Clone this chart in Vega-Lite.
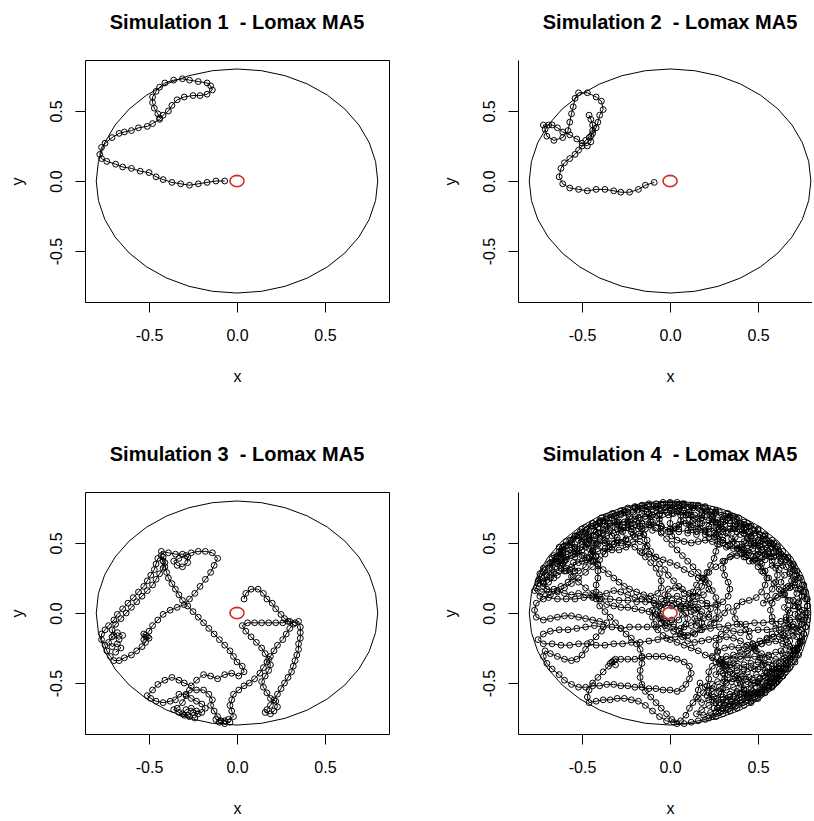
{
  "$schema": "https://vega.github.io/schema/vega-lite/v6.json",
  "background": "white",
  "padding": {"left": 8, "top": 12, "right": 0, "bottom": 0},
  "columns": 2,
  "spacing": {"row": 190, "column": 129},
  "bounds": "flush",
  "config": {
    "font": "Liberation Sans",
    "view": {"stroke": "black", "strokeWidth": 1},
    "axis": {
      "grid": false, "domain": false, "ticks": true, "tickColor": "black", "tickWidth": 1, "tickSize": 10,
      "labelFont": "Liberation Sans", "labelFontSize": 16, "labelColor": "black", "labelFlush": false, "labelOverlap": false,
      "titleFont": "Liberation Sans", "titleFontSize": 16, "titleFontWeight": "normal", "titleColor": "black"
    },
    "axisX": {"labelBaseline": "alphabetic", "labelPadding": 28, "titleY": 79, "titleBaseline": "alphabetic"},
    "axisY": {"labelAngle": -90, "labelAlign": "center", "labelBaseline": "alphabetic", "labelPadding": 14, "titleAngle": -90, "titleX": -63, "titleY": 121, "titleBaseline": "alphabetic", "titleAlign": "center"},
    "title": {"font": "Liberation Sans", "fontSize": 20, "fontWeight": "bold", "color": "black", "baseline": "alphabetic", "offset": 27, "frame": "group", "anchor": "middle"}
  },
  "datasets": {
    "ring": [{"x":0,"y":0.8},{"x":0.1389,"y":0.7878},{"x":0.2736,"y":0.7518},{"x":0.4,"y":0.6928},{"x":0.5142,"y":0.6128},{"x":0.6128,"y":0.5142},{"x":0.6928,"y":0.4},{"x":0.7518,"y":0.2736},{"x":0.7878,"y":0.1389},{"x":0.8,"y":0},{"x":0.7878,"y":-0.1389},{"x":0.7518,"y":-0.2736},{"x":0.6928,"y":-0.4},{"x":0.6128,"y":-0.5142},{"x":0.5142,"y":-0.6128},{"x":0.4,"y":-0.6928},{"x":0.2736,"y":-0.7518},{"x":0.1389,"y":-0.7878},{"x":0,"y":-0.8},{"x":-0.1389,"y":-0.7878},{"x":-0.2736,"y":-0.7518},{"x":-0.4,"y":-0.6928},{"x":-0.5142,"y":-0.6128},{"x":-0.6128,"y":-0.5142},{"x":-0.6928,"y":-0.4},{"x":-0.7518,"y":-0.2736},{"x":-0.7878,"y":-0.1389},{"x":-0.8,"y":0},{"x":-0.7878,"y":0.1389},{"x":-0.7518,"y":0.2736},{"x":-0.6928,"y":0.4},{"x":-0.6128,"y":0.5142},{"x":-0.5142,"y":0.6128},{"x":-0.4,"y":0.6928},{"x":-0.2736,"y":0.7518},{"x":-0.1389,"y":0.7878},{"x":0,"y":0.8}],
    "target": [{"x":0.04,"y":0},{"x":0.037,"y":0.0153},{"x":0.0283,"y":0.0283},{"x":0.0153,"y":0.037},{"x":0,"y":0.04},{"x":-0.0153,"y":0.037},{"x":-0.0283,"y":0.0283},{"x":-0.037,"y":0.0153},{"x":-0.04,"y":0},{"x":-0.037,"y":-0.0153},{"x":-0.0283,"y":-0.0283},{"x":-0.0153,"y":-0.037},{"x":0,"y":-0.04},{"x":0.0153,"y":-0.037},{"x":0.0283,"y":-0.0283},{"x":0.037,"y":-0.0153},{"x":0.04,"y":0}],
    "sim1": [{"x":-0.07,"y":0},{"x":-0.12,"y":0},{"x":-0.17,"y":-0.01},{"x":-0.22,"y":-0.02},{"x":-0.27,"y":-0.03},{"x":-0.32,"y":-0.02},{"x":-0.37,"y":-0.01},{"x":-0.42,"y":0.01},{"x":-0.46,"y":0.03},{"x":-0.5,"y":0.06},{"x":-0.55,"y":0.07},{"x":-0.6,"y":0.09},{"x":-0.65,"y":0.1},{"x":-0.69,"y":0.12},{"x":-0.74,"y":0.14},{"x":-0.77,"y":0.16},{"x":-0.78,"y":0.19},{"x":-0.77,"y":0.24},{"x":-0.75,"y":0.27},{"x":-0.71,"y":0.31},{"x":-0.67,"y":0.34},{"x":-0.64,"y":0.35},{"x":-0.6,"y":0.36},{"x":-0.56,"y":0.38},{"x":-0.51,"y":0.39},{"x":-0.48,"y":0.41},{"x":-0.44,"y":0.44},{"x":-0.42,"y":0.47},{"x":-0.39,"y":0.5},{"x":-0.37,"y":0.54},{"x":-0.34,"y":0.58},{"x":-0.3,"y":0.6},{"x":-0.25,"y":0.61},{"x":-0.21,"y":0.61},{"x":-0.17,"y":0.62},{"x":-0.14,"y":0.65},{"x":-0.15,"y":0.68},{"x":-0.17,"y":0.7},{"x":-0.22,"y":0.71},{"x":-0.27,"y":0.72},{"x":-0.31,"y":0.73},{"x":-0.36,"y":0.72},{"x":-0.41,"y":0.7},{"x":-0.44,"y":0.67},{"x":-0.46,"y":0.64},{"x":-0.48,"y":0.6},{"x":-0.48,"y":0.56},{"x":-0.47,"y":0.52},{"x":-0.45,"y":0.48},{"x":-0.44,"y":0.45}],
    "sim2": [{"x":-0.09,"y":-0.01},{"x":-0.14,"y":-0.03},{"x":-0.18,"y":-0.06},{"x":-0.23,"y":-0.08},{"x":-0.28,"y":-0.08},{"x":-0.32,"y":-0.07},{"x":-0.37,"y":-0.06},{"x":-0.42,"y":-0.06},{"x":-0.47,"y":-0.07},{"x":-0.52,"y":-0.06},{"x":-0.57,"y":-0.05},{"x":-0.61,"y":-0.02},{"x":-0.63,"y":0.03},{"x":-0.62,"y":0.09},{"x":-0.6,"y":0.13},{"x":-0.57,"y":0.16},{"x":-0.54,"y":0.19},{"x":-0.52,"y":0.22},{"x":-0.5,"y":0.25},{"x":-0.48,"y":0.29},{"x":-0.46,"y":0.31},{"x":-0.44,"y":0.34},{"x":-0.42,"y":0.38},{"x":-0.41,"y":0.42},{"x":-0.4,"y":0.47},{"x":-0.38,"y":0.51},{"x":-0.39,"y":0.57},{"x":-0.42,"y":0.6},{"x":-0.47,"y":0.63},{"x":-0.52,"y":0.63},{"x":-0.54,"y":0.59},{"x":-0.55,"y":0.53},{"x":-0.56,"y":0.48},{"x":-0.57,"y":0.42},{"x":-0.58,"y":0.36},{"x":-0.61,"y":0.31},{"x":-0.66,"y":0.29},{"x":-0.7,"y":0.32},{"x":-0.71,"y":0.37},{"x":-0.72,"y":0.4},{"x":-0.69,"y":0.4},{"x":-0.67,"y":0.4},{"x":-0.64,"y":0.38},{"x":-0.61,"y":0.35},{"x":-0.57,"y":0.33},{"x":-0.53,"y":0.3},{"x":-0.5,"y":0.27},{"x":-0.47,"y":0.25},{"x":-0.45,"y":0.28},{"x":-0.45,"y":0.32},{"x":-0.44,"y":0.36},{"x":-0.44,"y":0.4},{"x":-0.45,"y":0.44},{"x":-0.46,"y":0.47}],
    "sim3": [{"x":0.04,"y":0.1},{"x":0.05,"y":0.14},{"x":0.08,"y":0.17},{"x":0.12,"y":0.17},{"x":0.15,"y":0.14},{"x":0.17,"y":0.1},{"x":0.2,"y":0.07},{"x":0.22,"y":0.03},{"x":0.25,"y":-0.01},{"x":0.27,"y":-0.04},{"x":0.3,"y":-0.06},{"x":0.33,"y":-0.07},{"x":0.35,"y":-0.06},{"x":0.36,"y":-0.1},{"x":0.36,"y":-0.14},{"x":0.36,"y":-0.18},{"x":0.35,"y":-0.22},{"x":0.35,"y":-0.26},{"x":0.34,"y":-0.3},{"x":0.33,"y":-0.34},{"x":0.32,"y":-0.38},{"x":0.31,"y":-0.42},{"x":0.29,"y":-0.46},{"x":0.27,"y":-0.5},{"x":0.25,"y":-0.54},{"x":0.23,"y":-0.58},{"x":0.21,"y":-0.62},{"x":0.19,"y":-0.66},{"x":0.17,"y":-0.69},{"x":0.16,"y":-0.71},{"x":0.19,"y":-0.72},{"x":0.21,"y":-0.7},{"x":0.23,"y":-0.67},{"x":0.22,"y":-0.63},{"x":0.19,"y":-0.61},{"x":0.17,"y":-0.57},{"x":0.15,"y":-0.53},{"x":0.14,"y":-0.49},{"x":0.16,"y":-0.45},{"x":0.18,"y":-0.41},{"x":0.19,"y":-0.37},{"x":0.18,"y":-0.33},{"x":0.16,"y":-0.29},{"x":0.14,"y":-0.25},{"x":0.11,"y":-0.21},{"x":0.08,"y":-0.17},{"x":0.05,"y":-0.13},{"x":0.03,"y":-0.09},{"x":0.06,"y":-0.07},{"x":0.1,"y":-0.07},{"x":0.14,"y":-0.07},{"x":0.18,"y":-0.07},{"x":0.22,"y":-0.07},{"x":0.26,"y":-0.07},{"x":0.29,"y":-0.06},{"x":0.32,"y":-0.08},{"x":0.3,"y":-0.11},{"x":0.28,"y":-0.15},{"x":0.26,"y":-0.19},{"x":0.23,"y":-0.23},{"x":0.21,"y":-0.27},{"x":0.19,"y":-0.31},{"x":0.17,"y":-0.35},{"x":0.15,"y":-0.39},{"x":0.13,"y":-0.43},{"x":0.1,"y":-0.47},{"x":0.07,"y":-0.5},{"x":0.04,"y":-0.52},{"x":0.01,"y":-0.55},{"x":-0.02,"y":-0.58},{"x":-0.03,"y":-0.62},{"x":-0.04,"y":-0.66},{"x":-0.03,"y":-0.7},{"x":-0.02,"y":-0.74},{"x":-0.05,"y":-0.76},{"x":-0.09,"y":-0.77},{"x":-0.12,"y":-0.76},{"x":-0.1,"y":-0.78},{"x":-0.07,"y":-0.79},{"x":-0.04,"y":-0.78},{"x":-0.07,"y":-0.77},{"x":-0.11,"y":-0.74},{"x":-0.13,"y":-0.7},{"x":-0.15,"y":-0.66},{"x":-0.14,"y":-0.62},{"x":-0.16,"y":-0.58},{"x":-0.19,"y":-0.55},{"x":-0.23,"y":-0.55},{"x":-0.27,"y":-0.55},{"x":-0.29,"y":-0.59},{"x":-0.31,"y":-0.64},{"x":-0.34,"y":-0.68},{"x":-0.36,"y":-0.69},{"x":-0.33,"y":-0.71},{"x":-0.3,"y":-0.73},{"x":-0.27,"y":-0.74},{"x":-0.24,"y":-0.75},{"x":-0.22,"y":-0.72},{"x":-0.25,"y":-0.71},{"x":-0.28,"y":-0.73},{"x":-0.31,"y":-0.72},{"x":-0.29,"y":-0.69},{"x":-0.26,"y":-0.68},{"x":-0.23,"y":-0.7},{"x":-0.2,"y":-0.71},{"x":-0.18,"y":-0.68},{"x":-0.2,"y":-0.65},{"x":-0.23,"y":-0.63},{"x":-0.26,"y":-0.61},{"x":-0.29,"y":-0.58},{"x":-0.33,"y":-0.58},{"x":-0.35,"y":-0.62},{"x":-0.38,"y":-0.63},{"x":-0.42,"y":-0.64},{"x":-0.46,"y":-0.63},{"x":-0.49,"y":-0.61},{"x":-0.51,"y":-0.59},{"x":-0.48,"y":-0.55},{"x":-0.45,"y":-0.51},{"x":-0.41,"y":-0.48},{"x":-0.37,"y":-0.46},{"x":-0.33,"y":-0.48},{"x":-0.3,"y":-0.5},{"x":-0.26,"y":-0.52},{"x":-0.23,"y":-0.48},{"x":-0.19,"y":-0.44},{"x":-0.15,"y":-0.45},{"x":-0.11,"y":-0.47},{"x":-0.07,"y":-0.44},{"x":-0.03,"y":-0.43},{"x":0.01,"y":-0.45},{"x":0.04,"y":-0.42},{"x":0.03,"y":-0.38},{"x":0,"y":-0.35},{"x":-0.02,"y":-0.31},{"x":-0.04,"y":-0.27},{"x":-0.07,"y":-0.23},{"x":-0.1,"y":-0.19},{"x":-0.13,"y":-0.15},{"x":-0.16,"y":-0.11},{"x":-0.19,"y":-0.07},{"x":-0.22,"y":-0.03},{"x":-0.25,"y":0.01},{"x":-0.28,"y":0.05},{"x":-0.31,"y":0.09},{"x":-0.33,"y":0.13},{"x":-0.35,"y":0.17},{"x":-0.37,"y":0.21},{"x":-0.39,"y":0.25},{"x":-0.4,"y":0.29},{"x":-0.41,"y":0.33},{"x":-0.42,"y":0.37},{"x":-0.43,"y":0.41},{"x":-0.43,"y":0.44},{"x":-0.39,"y":0.43},{"x":-0.35,"y":0.42},{"x":-0.31,"y":0.42},{"x":-0.28,"y":0.4},{"x":-0.28,"y":0.36},{"x":-0.31,"y":0.33},{"x":-0.34,"y":0.34},{"x":-0.36,"y":0.37},{"x":-0.33,"y":0.39},{"x":-0.29,"y":0.41},{"x":-0.26,"y":0.43},{"x":-0.22,"y":0.44},{"x":-0.18,"y":0.44},{"x":-0.14,"y":0.43},{"x":-0.11,"y":0.39},{"x":-0.13,"y":0.34},{"x":-0.15,"y":0.29},{"x":-0.18,"y":0.24},{"x":-0.21,"y":0.19},{"x":-0.24,"y":0.14},{"x":-0.27,"y":0.1},{"x":-0.3,"y":0.06},{"x":-0.34,"y":0.04},{"x":-0.38,"y":0.02},{"x":-0.42,"y":-0.01},{"x":-0.45,"y":-0.05},{"x":-0.48,"y":-0.09},{"x":-0.5,"y":-0.13},{"x":-0.52,"y":-0.16},{"x":-0.5,"y":-0.18},{"x":-0.53,"y":-0.19},{"x":-0.53,"y":-0.15},{"x":-0.51,"y":-0.17},{"x":-0.52,"y":-0.21},{"x":-0.54,"y":-0.24},{"x":-0.57,"y":-0.27},{"x":-0.6,"y":-0.3},{"x":-0.64,"y":-0.32},{"x":-0.67,"y":-0.34},{"x":-0.7,"y":-0.34},{"x":-0.72,"y":-0.31},{"x":-0.74,"y":-0.27},{"x":-0.75,"y":-0.23},{"x":-0.77,"y":-0.19},{"x":-0.77,"y":-0.15},{"x":-0.75,"y":-0.12},{"x":-0.73,"y":-0.09},{"x":-0.7,"y":-0.05},{"x":-0.68,"y":-0.01},{"x":-0.65,"y":0.03},{"x":-0.62,"y":0.07},{"x":-0.59,"y":0.11},{"x":-0.56,"y":0.15},{"x":-0.53,"y":0.19},{"x":-0.51,"y":0.23},{"x":-0.49,"y":0.27},{"x":-0.47,"y":0.31},{"x":-0.46,"y":0.35},{"x":-0.45,"y":0.39},{"x":-0.42,"y":0.4},{"x":-0.41,"y":0.36},{"x":-0.42,"y":0.32},{"x":-0.44,"y":0.28},{"x":-0.46,"y":0.24},{"x":-0.48,"y":0.2},{"x":-0.51,"y":0.16},{"x":-0.54,"y":0.12},{"x":-0.57,"y":0.08},{"x":-0.6,"y":0.04},{"x":-0.63,"y":0},{"x":-0.66,"y":-0.04},{"x":-0.69,"y":-0.08},{"x":-0.71,"y":-0.12},{"x":-0.7,"y":-0.16},{"x":-0.67,"y":-0.19},{"x":-0.65,"y":-0.16},{"x":-0.68,"y":-0.14},{"x":-0.71,"y":-0.17},{"x":-0.73,"y":-0.21},{"x":-0.71,"y":-0.24},{"x":-0.68,"y":-0.22},{"x":-0.66,"y":-0.25},{"x":-0.69,"y":-0.28}],
    "sim4": [{"x":0.02,"y":-0.08},{"x":-0.03,"y":-0.09},{"x":-0.08,"y":-0.1},{"x":-0.13,"y":-0.1},{"x":-0.18,"y":-0.1},{"x":-0.23,"y":-0.1},{"x":-0.28,"y":-0.11},{"x":-0.33,"y":-0.1},{"x":-0.38,"y":-0.1},{"x":-0.43,"y":-0.09},{"x":-0.48,"y":-0.1},{"x":-0.53,"y":-0.11},{"x":-0.58,"y":-0.12},{"x":-0.63,"y":-0.12},{"x":-0.68,"y":-0.13},{"x":-0.72,"y":-0.15},{"x":-0.75,"y":-0.19},
      {"x":-0.72,"y":-0.22},{"x":-0.67,"y":-0.22},{"x":-0.62,"y":-0.23},{"x":-0.57,"y":-0.23},{"x":-0.52,"y":-0.22},{"x":-0.47,"y":-0.22},{"x":-0.42,"y":-0.23},{"x":-0.37,"y":-0.23},{"x":-0.32,"y":-0.22},{"x":-0.27,"y":-0.22},{"x":-0.22,"y":-0.21},{"x":-0.17,"y":-0.21},{"x":-0.12,"y":-0.2},{"x":-0.07,"y":-0.19},{"x":-0.02,"y":-0.18},{"x":0.03,"y":-0.17},{"x":0.08,"y":-0.16},{"x":0.13,"y":-0.14},{"x":0.18,"y":-0.12},{"x":0.23,"y":-0.11},{"x":0.28,"y":-0.1},{"x":0.33,"y":-0.09},{"x":0.38,"y":-0.08},{"x":0.43,"y":-0.08},{"x":0.48,"y":-0.07},{"x":0.53,"y":-0.07},{"x":0.58,"y":-0.06},{"x":0.63,"y":-0.06},{"x":0.68,"y":-0.05},{"x":0.73,"y":-0.04},{"x":0.77,"y":-0.03},
      {"x":0.74,"y":0.01},{"x":0.71,"y":0.05},{"x":0.68,"y":0.09},{"x":0.65,"y":0.13},{"x":0.62,"y":0.17},{"x":0.59,"y":0.21},{"x":0.56,"y":0.25},{"x":0.53,"y":0.29},{"x":0.5,"y":0.33},{"x":0.47,"y":0.37},{"x":0.44,"y":0.41},{"x":0.41,"y":0.45},{"x":0.38,"y":0.49},{"x":0.35,"y":0.53},{"x":0.32,"y":0.57},{"x":0.29,"y":0.61},{"x":0.26,"y":0.65},{"x":0.23,"y":0.69},{"x":0.2,"y":0.73},{"x":0.16,"y":0.76},
      {"x":0.12,"y":0.77},{"x":0.08,"y":0.78},{"x":0.04,"y":0.76},{"x":0,"y":0.78},{"x":-0.04,"y":0.77},{"x":-0.08,"y":0.75},{"x":-0.12,"y":0.76},{"x":-0.16,"y":0.74},{"x":-0.2,"y":0.75},{"x":-0.24,"y":0.72},{"x":-0.28,"y":0.71},{"x":-0.32,"y":0.69},{"x":-0.36,"y":0.67},{"x":-0.4,"y":0.65},{"x":-0.44,"y":0.62},{"x":-0.48,"y":0.59},{"x":-0.52,"y":0.56},{"x":-0.56,"y":0.52},{"x":-0.59,"y":0.48},{"x":-0.62,"y":0.44},{"x":-0.65,"y":0.4},{"x":-0.68,"y":0.36},{"x":-0.71,"y":0.31},{"x":-0.73,"y":0.26},{"x":-0.75,"y":0.21},{"x":-0.77,"y":0.16},
      {"x":-0.74,"y":0.12},{"x":-0.69,"y":0.11},{"x":-0.64,"y":0.1},{"x":-0.59,"y":0.1},{"x":-0.54,"y":0.1},{"x":-0.49,"y":0.11},{"x":-0.44,"y":0.11},{"x":-0.39,"y":0.1},{"x":-0.34,"y":0.1},{"x":-0.29,"y":0.09},{"x":-0.24,"y":0.09},{"x":-0.19,"y":0.08},{"x":-0.14,"y":0.08},{"x":-0.09,"y":0.07},{"x":-0.04,"y":0.06},{"x":0.01,"y":0.05},{"x":0.06,"y":0.05},{"x":0.11,"y":0.04},{"x":0.16,"y":0.04},{"x":0.21,"y":0.05},{"x":0.26,"y":0.06},{"x":0.3,"y":0.08},{"x":0.33,"y":0.12},{"x":0.34,"y":0.17},{"x":0.33,"y":0.22},{"x":0.31,"y":0.27},{"x":0.3,"y":0.32},{"x":0.31,"y":0.37},{"x":0.34,"y":0.4},{"x":0.38,"y":0.41},{"x":0.43,"y":0.4},{"x":0.48,"y":0.38},{"x":0.52,"y":0.35},{"x":0.54,"y":0.3},{"x":0.55,"y":0.25},{"x":0.54,"y":0.2},{"x":0.52,"y":0.15},{"x":0.49,"y":0.11},{"x":0.45,"y":0.09},{"x":0.41,"y":0.08},
      {"x":0.38,"y":0.05},{"x":0.36,"y":0.01},{"x":0.37,"y":-0.04},{"x":0.4,"y":-0.08},{"x":0.43,"y":-0.12},{"x":0.45,"y":-0.17},{"x":0.47,"y":-0.22},{"x":0.49,"y":-0.27},{"x":0.51,"y":-0.32},{"x":0.53,"y":-0.37},{"x":0.55,"y":-0.42},{"x":0.56,"y":-0.47},{"x":0.55,"y":-0.52},{"x":0.52,"y":-0.56},{"x":0.48,"y":-0.58},{"x":0.44,"y":-0.6},{"x":0.4,"y":-0.62},{"x":0.36,"y":-0.65},{"x":0.32,"y":-0.68},{"x":0.28,"y":-0.71},{"x":0.24,"y":-0.74},{"x":0.2,"y":-0.76},{"x":0.16,"y":-0.77},{"x":0.12,"y":-0.78},{"x":0.08,"y":-0.79},{"x":0.04,"y":-0.79},
      {"x":0.01,"y":-0.76},{"x":-0.02,"y":-0.72},{"x":-0.05,"y":-0.68},{"x":-0.08,"y":-0.64},{"x":-0.11,"y":-0.6},{"x":-0.14,"y":-0.56},{"x":-0.16,"y":-0.51},{"x":-0.17,"y":-0.46},{"x":-0.17,"y":-0.41},{"x":-0.16,"y":-0.36},{"x":-0.16,"y":-0.31},{"x":-0.17,"y":-0.26},{"x":-0.19,"y":-0.22},{"x":-0.22,"y":-0.18},{"x":-0.25,"y":-0.15},{"x":-0.28,"y":-0.11},{"x":-0.31,"y":-0.07},{"x":-0.34,"y":-0.03},{"x":-0.37,"y":0.01},{"x":-0.4,"y":0.05},{"x":-0.42,"y":0.1},{"x":-0.42,"y":0.15},{"x":-0.42,"y":0.2},{"x":-0.41,"y":0.25},{"x":-0.41,"y":0.3},{"x":-0.41,"y":0.35},{"x":-0.42,"y":0.4},{"x":-0.44,"y":0.45},{"x":-0.47,"y":0.49},{"x":-0.5,"y":0.53},
      {"x":-0.46,"y":0.56},{"x":-0.42,"y":0.58},{"x":-0.38,"y":0.6},{"x":-0.34,"y":0.62},{"x":-0.3,"y":0.64},{"x":-0.26,"y":0.65},{"x":-0.22,"y":0.67},{"x":-0.18,"y":0.68},{"x":-0.14,"y":0.69},{"x":-0.1,"y":0.7},{"x":-0.06,"y":0.71},{"x":-0.02,"y":0.72},{"x":0.02,"y":0.71},{"x":0.06,"y":0.7},{"x":0.1,"y":0.71},{"x":0.14,"y":0.7},{"x":0.18,"y":0.68},{"x":0.22,"y":0.66},{"x":0.26,"y":0.64},{"x":0.3,"y":0.67},{"x":0.34,"y":0.69},{"x":0.38,"y":0.67},{"x":0.42,"y":0.65},{"x":0.46,"y":0.62},{"x":0.5,"y":0.59},{"x":0.54,"y":0.56},{"x":0.58,"y":0.52},{"x":0.61,"y":0.48},{"x":0.64,"y":0.44},{"x":0.67,"y":0.4},{"x":0.7,"y":0.35},{"x":0.72,"y":0.3},{"x":0.74,"y":0.25},{"x":0.76,"y":0.2},
      {"x":0.77,"y":0.15},{"x":0.78,"y":0.1},{"x":0.78,"y":0.05},{"x":0.77,"y":0},{"x":0.76,"y":-0.05},{"x":0.77,"y":-0.1},{"x":0.76,"y":-0.15},{"x":0.74,"y":-0.2},{"x":0.73,"y":-0.25},{"x":0.71,"y":-0.3},{"x":0.69,"y":-0.35},{"x":0.67,"y":-0.4},{"x":0.64,"y":-0.45},{"x":0.61,"y":-0.49},{"x":0.58,"y":-0.53},{"x":0.54,"y":-0.57},{"x":0.5,"y":-0.61},{"x":0.46,"y":-0.64},
      {"x":0.44,"y":-0.6},{"x":0.42,"y":-0.55},{"x":0.4,"y":-0.5},{"x":0.38,"y":-0.45},{"x":0.35,"y":-0.41},{"x":0.32,"y":-0.37},{"x":0.29,"y":-0.33},{"x":0.27,"y":-0.28},{"x":0.26,"y":-0.23},{"x":0.28,"y":-0.19},{"x":0.32,"y":-0.17},{"x":0.36,"y":-0.18},{"x":0.4,"y":-0.2},{"x":0.44,"y":-0.23},{"x":0.48,"y":-0.26},{"x":0.52,"y":-0.29},{"x":0.56,"y":-0.31},{"x":0.6,"y":-0.33},{"x":0.64,"y":-0.33},{"x":0.68,"y":-0.3},{"x":0.7,"y":-0.25},{"x":0.68,"y":-0.2},{"x":0.65,"y":-0.16},{"x":0.62,"y":-0.12},{"x":0.6,"y":-0.08},{"x":0.58,"y":-0.03},{"x":0.57,"y":0.02},{"x":0.58,"y":0.07},{"x":0.6,"y":0.12},{"x":0.63,"y":0.16},{"x":0.67,"y":0.19},{"x":0.71,"y":0.2},{"x":0.74,"y":0.17},{"x":0.75,"y":0.12},{"x":0.73,"y":0.08},{"x":0.7,"y":0.05},{"x":0.67,"y":0.02},{"x":0.66,"y":-0.03},{"x":0.67,"y":-0.08},{"x":0.69,"y":-0.13},{"x":0.72,"y":-0.17},{"x":0.74,"y":-0.22},
      {"x":0.72,"y":-0.27},{"x":0.69,"y":-0.31},{"x":0.66,"y":-0.36},{"x":0.62,"y":-0.4},{"x":0.58,"y":-0.43},{"x":0.54,"y":-0.46},{"x":0.5,"y":-0.49},{"x":0.46,"y":-0.51},{"x":0.42,"y":-0.54},{"x":0.38,"y":-0.57},{"x":0.34,"y":-0.6},{"x":0.3,"y":-0.62},{"x":0.26,"y":-0.64},{"x":0.22,"y":-0.66},{"x":0.18,"y":-0.69},{"x":0.15,"y":-0.72},{"x":0.19,"y":-0.73},{"x":0.23,"y":-0.71},{"x":0.27,"y":-0.68},{"x":0.31,"y":-0.66},{"x":0.35,"y":-0.63},{"x":0.39,"y":-0.61},{"x":0.43,"y":-0.58},{"x":0.47,"y":-0.56},{"x":0.51,"y":-0.53},{"x":0.55,"y":-0.5},{"x":0.58,"y":-0.47},{"x":0.61,"y":-0.43},{"x":0.63,"y":-0.39},{"x":0.6,"y":-0.36},{"x":0.56,"y":-0.35},{"x":0.52,"y":-0.37},{"x":0.48,"y":-0.4},{"x":0.44,"y":-0.42},{"x":0.4,"y":-0.44},{"x":0.36,"y":-0.47},{"x":0.32,"y":-0.5},{"x":0.28,"y":-0.53},{"x":0.24,"y":-0.56},{"x":0.21,"y":-0.59},{"x":0.25,"y":-0.6},{"x":0.29,"y":-0.58},
      {"x":0.3,"y":-0.54},{"x":0.31,"y":-0.49},{"x":0.31,"y":-0.44},{"x":0.3,"y":-0.39},{"x":0.28,"y":-0.35},{"x":0.24,"y":-0.32},{"x":0.2,"y":-0.3},{"x":0.16,"y":-0.27},{"x":0.12,"y":-0.25},{"x":0.08,"y":-0.23},{"x":0.04,"y":-0.21},{"x":0,"y":-0.19},{"x":-0.04,"y":-0.16},{"x":-0.07,"y":-0.12},{"x":-0.09,"y":-0.08},{"x":-0.1,"y":-0.03},{"x":-0.1,"y":0.02},{"x":-0.08,"y":0.06},{"x":-0.05,"y":0.1},{"x":-0.01,"y":0.12},{"x":0.04,"y":0.12},{"x":0.08,"y":0.1},{"x":0.12,"y":0.07},{"x":0.15,"y":0.03},{"x":0.17,"y":-0.02},{"x":0.18,"y":-0.07},{"x":0.17,"y":-0.12},{"x":0.14,"y":-0.15},{"x":0.1,"y":-0.16},{"x":0.06,"y":-0.15},{"x":0.02,"y":-0.13},{"x":-0.02,"y":-0.11},{"x":-0.05,"y":-0.07},{"x":-0.06,"y":-0.02},{"x":-0.05,"y":0.03},{"x":-0.03,"y":0.07},{"x":0.01,"y":0.09},{"x":0.05,"y":0.08},{"x":0.09,"y":0.05},{"x":0.12,"y":0.01},{"x":0.14,"y":-0.04},{"x":0.15,"y":-0.09},{"x":0.19,"y":-0.1},{"x":0.23,"y":-0.08},{"x":0.26,"y":-0.04},{"x":0.27,"y":0.01},{"x":0.27,"y":0.06},{"x":0.26,"y":0.11},{"x":0.24,"y":0.16},{"x":0.22,"y":0.21},{"x":0.19,"y":0.25},{"x":0.16,"y":0.29},{"x":0.13,"y":0.33},{"x":0.1,"y":0.37},{"x":0.07,"y":0.41},{"x":0.04,"y":0.45},{"x":0.01,"y":0.49},
      {"x":-0.02,"y":0.53},{"x":-0.05,"y":0.57},{"x":-0.08,"y":0.61},{"x":-0.12,"y":0.63},{"x":-0.16,"y":0.64},{"x":-0.2,"y":0.63},{"x":-0.24,"y":0.61},{"x":-0.28,"y":0.59},{"x":-0.32,"y":0.57},{"x":-0.36,"y":0.55},{"x":-0.4,"y":0.53},{"x":-0.44,"y":0.5},{"x":-0.48,"y":0.47},{"x":-0.52,"y":0.44},{"x":-0.56,"y":0.41},{"x":-0.6,"y":0.38},{"x":-0.64,"y":0.35},{"x":-0.67,"y":0.31},{"x":-0.7,"y":0.27},{"x":-0.72,"y":0.22},
      {"x":-0.68,"y":0.25},{"x":-0.64,"y":0.27},{"x":-0.6,"y":0.3},{"x":-0.56,"y":0.33},{"x":-0.52,"y":0.36},{"x":-0.48,"y":0.38},{"x":-0.44,"y":0.37},{"x":-0.41,"y":0.34},{"x":-0.38,"y":0.31},{"x":-0.35,"y":0.28},{"x":-0.32,"y":0.25},{"x":-0.29,"y":0.22},{"x":-0.26,"y":0.19},{"x":-0.23,"y":0.17},{"x":-0.19,"y":0.15},{"x":-0.15,"y":0.13},{"x":-0.11,"y":0.12},{"x":-0.07,"y":0.14},{"x":-0.05,"y":0.18},{"x":-0.05,"y":0.23},{"x":-0.06,"y":0.28},{"x":-0.08,"y":0.32},{"x":-0.11,"y":0.36},{"x":-0.14,"y":0.4},{"x":-0.17,"y":0.44},{"x":-0.2,"y":0.47},{"x":-0.24,"y":0.49},{"x":-0.28,"y":0.5},{"x":-0.32,"y":0.49},{"x":-0.35,"y":0.46},{"x":-0.37,"y":0.42},
      {"x":-0.4,"y":0.38},{"x":-0.44,"y":0.33},{"x":-0.48,"y":0.29},{"x":-0.52,"y":0.25},{"x":-0.56,"y":0.21},{"x":-0.6,"y":0.18},{"x":-0.64,"y":0.15},{"x":-0.68,"y":0.13},{"x":-0.72,"y":0.1},{"x":-0.76,"y":0.07},{"x":-0.77,"y":0.02},{"x":-0.76,"y":-0.03},{"x":-0.72,"y":-0.05},{"x":-0.68,"y":-0.04},{"x":-0.64,"y":-0.03},{"x":-0.6,"y":-0.02},{"x":-0.56,"y":-0.02},{"x":-0.52,"y":-0.03},{"x":-0.48,"y":-0.04},{"x":-0.44,"y":-0.05},{"x":-0.4,"y":-0.06},{"x":-0.36,"y":-0.07},
      {"x":-0.39,"y":-0.13},{"x":-0.42,"y":-0.17},{"x":-0.45,"y":-0.21},{"x":-0.48,"y":-0.26},{"x":-0.5,"y":-0.3},{"x":-0.53,"y":-0.33},{"x":-0.56,"y":-0.34},{"x":-0.6,"y":-0.33},{"x":-0.64,"y":-0.31},{"x":-0.68,"y":-0.29},{"x":-0.71,"y":-0.27},{"x":-0.72,"y":-0.31},{"x":-0.7,"y":-0.36},{"x":-0.67,"y":-0.4},{"x":-0.63,"y":-0.44},{"x":-0.6,"y":-0.48},{"x":-0.56,"y":-0.51},{"x":-0.52,"y":-0.53},{"x":-0.48,"y":-0.53},{"x":-0.44,"y":-0.52},{"x":-0.4,"y":-0.52},{"x":-0.36,"y":-0.51},{"x":-0.32,"y":-0.51},{"x":-0.28,"y":-0.52},{"x":-0.24,"y":-0.52},{"x":-0.2,"y":-0.53},{"x":-0.16,"y":-0.53},{"x":-0.12,"y":-0.54},{"x":-0.08,"y":-0.54},{"x":-0.04,"y":-0.55},{"x":0,"y":-0.55},{"x":0.04,"y":-0.56},{"x":0.07,"y":-0.54},{"x":0.09,"y":-0.51},{"x":0.11,"y":-0.47},{"x":0.12,"y":-0.43},{"x":0.11,"y":-0.38},{"x":0.08,"y":-0.35},{"x":0.04,"y":-0.33},{"x":0,"y":-0.32},{"x":-0.04,"y":-0.31},{"x":-0.08,"y":-0.31},{"x":-0.12,"y":-0.31},{"x":-0.16,"y":-0.32},{"x":-0.2,"y":-0.33},{"x":-0.24,"y":-0.33},{"x":-0.28,"y":-0.33},{"x":-0.31,"y":-0.33},{"x":-0.33,"y":-0.35},{"x":-0.31,"y":-0.37},{"x":-0.34,"y":-0.36},{"x":-0.32,"y":-0.34},
      {"x":-0.35,"y":-0.38},{"x":-0.38,"y":-0.42},{"x":-0.41,"y":-0.46},{"x":-0.44,"y":-0.5},{"x":-0.46,"y":-0.55},{"x":-0.47,"y":-0.6},{"x":-0.46,"y":-0.64},{"x":-0.42,"y":-0.63},{"x":-0.38,"y":-0.62},{"x":-0.34,"y":-0.62},{"x":-0.3,"y":-0.61},{"x":-0.26,"y":-0.61},{"x":-0.22,"y":-0.62},{"x":-0.18,"y":-0.63},{"x":-0.14,"y":-0.66},{"x":-0.1,"y":-0.7},{"x":-0.06,"y":-0.74},{"x":-0.02,"y":-0.77},{"x":0.02,"y":-0.78},{"x":0.06,"y":-0.77},{"x":0.09,"y":-0.73},{"x":0.11,"y":-0.68},{"x":0.13,"y":-0.64},{"x":0.16,"y":-0.61},{"x":0.19,"y":-0.57},{"x":0.21,"y":-0.52},{"x":0.22,"y":-0.47},{"x":0.22,"y":-0.42},{"x":0.24,"y":-0.38},{"x":0.28,"y":-0.36},{"x":0.32,"y":-0.33},{"x":0.36,"y":-0.3},{"x":0.4,"y":-0.28},{"x":0.44,"y":-0.27},
      {"x":0.48,"y":-0.24},{"x":0.52,"y":-0.22},{"x":0.56,"y":-0.21},{"x":0.6,"y":-0.2},{"x":0.64,"y":-0.22},{"x":0.68,"y":-0.24},{"x":0.72,"y":-0.26},{"x":0.73,"y":-0.3},{"x":0.71,"y":-0.35},{"x":0.68,"y":-0.39},{"x":0.65,"y":-0.43},{"x":0.62,"y":-0.47},{"x":0.59,"y":-0.51},{"x":0.56,"y":-0.54},{"x":0.52,"y":-0.58},{"x":0.49,"y":-0.61},{"x":0.46,"y":-0.63},{"x":0.42,"y":-0.66},{"x":0.38,"y":-0.68},{"x":0.34,"y":-0.7},{"x":0.3,"y":-0.72},{"x":0.26,"y":-0.74},{"x":0.22,"y":-0.75},
      {"x":0.26,"y":-0.71},{"x":0.3,"y":-0.68},{"x":0.34,"y":-0.65},{"x":0.38,"y":-0.62},{"x":0.42,"y":-0.58},{"x":0.46,"y":-0.54},{"x":0.5,"y":-0.5},{"x":0.54,"y":-0.46},{"x":0.58,"y":-0.42},{"x":0.62,"y":-0.38},{"x":0.66,"y":-0.34},{"x":0.7,"y":-0.3},{"x":0.73,"y":-0.25},{"x":0.75,"y":-0.2},{"x":0.76,"y":-0.15},{"x":0.77,"y":-0.1},{"x":0.78,"y":-0.05},{"x":0.78,"y":0},{"x":0.78,"y":0.05},{"x":0.77,"y":0.1},{"x":0.76,"y":0.15},{"x":0.75,"y":0.2},{"x":0.73,"y":0.25},{"x":0.71,"y":0.3},{"x":0.69,"y":0.34},{"x":0.66,"y":0.38},{"x":0.63,"y":0.42},{"x":0.6,"y":0.46},{"x":0.57,"y":0.5},{"x":0.54,"y":0.53},{"x":0.51,"y":0.56},{"x":0.47,"y":0.59},{"x":0.43,"y":0.61},{"x":0.4,"y":0.63},
      {"x":0.37,"y":0.6},{"x":0.4,"y":0.56},{"x":0.44,"y":0.53},{"x":0.48,"y":0.5},{"x":0.52,"y":0.47},{"x":0.56,"y":0.44},{"x":0.6,"y":0.41},{"x":0.63,"y":0.37},{"x":0.66,"y":0.33},{"x":0.68,"y":0.28},{"x":0.69,"y":0.23},{"x":0.68,"y":0.18},{"x":0.65,"y":0.14},{"x":0.61,"y":0.11},{"x":0.57,"y":0.09},{"x":0.53,"y":0.07},{"x":0.55,"y":0.12},{"x":0.58,"y":0.17},{"x":0.6,"y":0.22},{"x":0.61,"y":0.27},{"x":0.6,"y":0.32},{"x":0.58,"y":0.37},{"x":0.55,"y":0.41},{"x":0.52,"y":0.45},{"x":0.48,"y":0.48},{"x":0.44,"y":0.48},{"x":0.4,"y":0.47},{"x":0.36,"y":0.46},{"x":0.32,"y":0.47},{"x":0.28,"y":0.49},{"x":0.24,"y":0.51},{"x":0.2,"y":0.52},{"x":0.16,"y":0.51},{"x":0.12,"y":0.5},{"x":0.08,"y":0.51},{"x":0.04,"y":0.52},{"x":0.01,"y":0.55},{"x":0.02,"y":0.6},{"x":0.05,"y":0.63},{"x":0.09,"y":0.64},{"x":0.13,"y":0.63},{"x":0.17,"y":0.61},{"x":0.2,"y":0.58},{"x":0.22,"y":0.54},{"x":0.25,"y":0.57},{"x":0.28,"y":0.6},{"x":0.31,"y":0.63},{"x":0.34,"y":0.66},{"x":0.36,"y":0.69},{"x":0.32,"y":0.71},{"x":0.28,"y":0.72},{"x":0.24,"y":0.74},{"x":0.2,"y":0.76},
      {"x":0.16,"y":0.77},{"x":0.12,"y":0.76},{"x":0.08,"y":0.77},{"x":0.04,"y":0.79},{"x":0,"y":0.79},{"x":-0.04,"y":0.79},{"x":-0.08,"y":0.78},{"x":-0.12,"y":0.78},{"x":-0.16,"y":0.77},{"x":-0.2,"y":0.76},{"x":-0.24,"y":0.75},{"x":-0.28,"y":0.73},{"x":-0.32,"y":0.71},{"x":-0.36,"y":0.69},{"x":-0.4,"y":0.66},{"x":-0.44,"y":0.64},{"x":-0.48,"y":0.61},{"x":-0.51,"y":0.58},{"x":-0.54,"y":0.55},{"x":-0.57,"y":0.52},{"x":-0.6,"y":0.48},{"x":-0.63,"y":0.44},{"x":-0.66,"y":0.41},{"x":-0.62,"y":0.4},{"x":-0.58,"y":0.42},{"x":-0.54,"y":0.46},{"x":-0.5,"y":0.49},{"x":-0.46,"y":0.52},{"x":-0.42,"y":0.55},{"x":-0.38,"y":0.57},{"x":-0.34,"y":0.59},{"x":-0.3,"y":0.6},{"x":-0.26,"y":0.61},{"x":-0.22,"y":0.62},{"x":-0.18,"y":0.6},{"x":-0.15,"y":0.56},{"x":-0.13,"y":0.52},{"x":-0.14,"y":0.47},{"x":-0.16,"y":0.43},
      {"x":-0.12,"y":0.42},{"x":-0.08,"y":0.4},{"x":-0.04,"y":0.38},{"x":0,"y":0.36},{"x":0.04,"y":0.34},{"x":0.08,"y":0.31},{"x":0.12,"y":0.28},{"x":0.16,"y":0.25},{"x":0.2,"y":0.22},
      {"x":0.22,"y":0.17},{"x":0.19,"y":0.13},{"x":0.15,"y":0.12},{"x":0.11,"y":0.14},{"x":0.07,"y":0.17},{"x":0.03,"y":0.18},{"x":-0.01,"y":0.17},{"x":-0.03,"y":0.13},{"x":-0.02,"y":0.09},{"x":0.02,"y":0.06},{"x":0.06,"y":0.03},{"x":0.09,"y":0},{"x":0.1,"y":-0.04},{"x":0.09,"y":-0.08},{"x":0.06,"y":-0.11},{"x":0.02,"y":-0.1},{"x":-0.02,"y":-0.07},{"x":-0.05,"y":-0.04},{"x":-0.08,"y":-0.01},{"x":-0.12,"y":0.01},{"x":-0.16,"y":0.02},{"x":-0.2,"y":0.03},{"x":-0.24,"y":0.04},{"x":-0.28,"y":0.04},{"x":-0.32,"y":0.05},{"x":-0.36,"y":0.06},
      {"x":-0.4,"y":0.1},{"x":-0.44,"y":0.14},{"x":-0.48,"y":0.18},{"x":-0.52,"y":0.22},{"x":-0.56,"y":0.26},{"x":-0.59,"y":0.3},{"x":-0.62,"y":0.34},
      {"x":-0.63,"y":0.37},{"x":-0.59,"y":0.4},{"x":-0.54,"y":0.42},{"x":-0.5,"y":0.45},{"x":-0.48,"y":0.5},{"x":-0.46,"y":0.54},{"x":-0.43,"y":0.59},{"x":-0.4,"y":0.64},{"x":-0.34,"y":0.64},{"x":-0.29,"y":0.65},{"x":-0.24,"y":0.65},{"x":-0.18,"y":0.64},{"x":-0.14,"y":0.67},{"x":-0.1,"y":0.7},{"x":-0.05,"y":0.73},{"x":0,"y":0.75},{"x":0.05,"y":0.73},{"x":0.1,"y":0.7},{"x":0.14,"y":0.67},{"x":0.18,"y":0.64},{"x":0.24,"y":0.65},{"x":0.29,"y":0.65},{"x":0.34,"y":0.64},{"x":0.4,"y":0.64},{"x":0.43,"y":0.59},{"x":0.46,"y":0.54},{"x":0.48,"y":0.5},{"x":0.5,"y":0.45},{"x":0.54,"y":0.42},{"x":0.59,"y":0.4},{"x":0.63,"y":0.37},
      {"x":0.52,"y":0.3},{"x":0.51,"y":0.36},{"x":0.49,"y":0.41},{"x":0.44,"y":0.44},{"x":0.39,"y":0.46},{"x":0.33,"y":0.48},{"x":0.3,"y":0.52},{"x":0.26,"y":0.56},{"x":0.22,"y":0.6},{"x":0.16,"y":0.6},{"x":0.1,"y":0.59},{"x":0.05,"y":0.58},{"x":0,"y":0.6},{"x":-0.05,"y":0.62},{"x":-0.11,"y":0.63},{"x":-0.16,"y":0.6},{"x":-0.21,"y":0.56},{"x":-0.25,"y":0.53},{"x":-0.3,"y":0.52},{"x":-0.36,"y":0.51},{"x":-0.41,"y":0.49},{"x":-0.44,"y":0.44},{"x":-0.46,"y":0.39},{"x":-0.48,"y":0.33},{"x":-0.52,"y":0.3},
      {"x":-0.67,"y":0.39},{"x":-0.62,"y":0.42},{"x":-0.61,"y":0.47},{"x":-0.56,"y":0.5},{"x":-0.53,"y":0.55},{"x":-0.48,"y":0.57},{"x":-0.45,"y":0.62},{"x":-0.4,"y":0.64},{"x":-0.36,"y":0.68},{"x":-0.31,"y":0.69},{"x":-0.26,"y":0.72},{"x":-0.21,"y":0.72},{"x":-0.16,"y":0.75},{"x":-0.1,"y":0.74},{"x":-0.05,"y":0.77},{"x":0,"y":0.75},{"x":0.05,"y":0.77},{"x":0.1,"y":0.74},{"x":0.16,"y":0.75},{"x":0.21,"y":0.72},{"x":0.26,"y":0.72},{"x":0.31,"y":0.69},{"x":0.36,"y":0.68},{"x":0.4,"y":0.64},{"x":0.45,"y":0.62},{"x":0.48,"y":0.57},{"x":0.53,"y":0.55},{"x":0.56,"y":0.5},{"x":0.61,"y":0.47},{"x":0.62,"y":0.42},{"x":0.67,"y":0.39},
      {"x":0.7,"y":0.34},{"x":0.68,"y":0.29},{"x":0.71,"y":0.24},{"x":0.69,"y":0.19},{"x":0.72,"y":0.14},{"x":0.7,"y":0.09},{"x":0.73,"y":0.04},{"x":0.71,"y":-0.01},{"x":0.74,"y":-0.06},{"x":0.72,"y":-0.11},{"x":0.7,"y":-0.16},{"x":0.66,"y":-0.19},{"x":0.62,"y":-0.17},{"x":0.58,"y":-0.15},{"x":0.55,"y":-0.18},{"x":0.52,"y":-0.22},
      {"x":0.48,"y":-0.25},{"x":0.44,"y":-0.29},{"x":0.4,"y":-0.33},{"x":0.36,"y":-0.36},{"x":0.32,"y":-0.38},{"x":0.28,"y":-0.4},{"x":0.26,"y":-0.44},{"x":0.3,"y":-0.43},{"x":0.34,"y":-0.42},{"x":0.38,"y":-0.41},{"x":0.42,"y":-0.4},{"x":0.46,"y":-0.39},{"x":0.5,"y":-0.4},{"x":0.54,"y":-0.41},{"x":0.58,"y":-0.4},{"x":0.62,"y":-0.42},{"x":0.66,"y":-0.4},{"x":0.64,"y":-0.45},{"x":0.6,"y":-0.47},{"x":0.56,"y":-0.49},{"x":0.52,"y":-0.51},{"x":0.48,"y":-0.5},{"x":0.44,"y":-0.49},{"x":0.4,"y":-0.51},{"x":0.36,"y":-0.53},{"x":0.32,"y":-0.55},{"x":0.28,"y":-0.56},{"x":0.24,"y":-0.54},{"x":0.2,"y":-0.53},{"x":0.17,"y":-0.5},{"x":0.16,"y":-0.55},{"x":0.15,"y":-0.6},{"x":0.18,"y":-0.64},{"x":0.22,"y":-0.62},{"x":0.26,"y":-0.61},{"x":0.3,"y":-0.6},{"x":0.34,"y":-0.58},{"x":0.38,"y":-0.56},{"x":0.42,"y":-0.55},{"x":0.46,"y":-0.57},{"x":0.5,"y":-0.57},{"x":0.54,"y":-0.55},{"x":0.58,"y":-0.52},{"x":0.61,"y":-0.48},{"x":0.63,"y":-0.44},{"x":0.65,"y":-0.39},{"x":0.67,"y":-0.35},{"x":0.69,"y":-0.31},{"x":0.71,"y":-0.27},{"x":0.73,"y":-0.22},
      {"x":0.68,"y":-0.27},{"x":0.64,"y":-0.29},{"x":0.6,"y":-0.28},{"x":0.56,"y":-0.3},{"x":0.52,"y":-0.32},{"x":0.48,"y":-0.31},{"x":0.44,"y":-0.32},{"x":0.4,"y":-0.31},{"x":0.36,"y":-0.33},{"x":0.32,"y":-0.31},{"x":0.29,"y":-0.34},{"x":0.31,"y":-0.38},{"x":0.33,"y":-0.44},{"x":0.37,"y":-0.46},{"x":0.41,"y":-0.45},{"x":0.45,"y":-0.46},{"x":0.49,"y":-0.44},{"x":0.53,"y":-0.45},{"x":0.57,"y":-0.44},{"x":0.61,"y":-0.46},{"x":0.6,"y":-0.5},{"x":0.56,"y":-0.53},{"x":0.52,"y":-0.55},{"x":0.48,"y":-0.57},{"x":0.44,"y":-0.59},{"x":0.4,"y":-0.58},{"x":0.36,"y":-0.6},{"x":0.32,"y":-0.62},{"x":0.28,"y":-0.64},{"x":0.25,"y":-0.68},{"x":0.29,"y":-0.7},{"x":0.33,"y":-0.69},{"x":0.37,"y":-0.67},{"x":0.41,"y":-0.64},{"x":0.45,"y":-0.61},{"x":0.49,"y":-0.57},{"x":0.53,"y":-0.53},{"x":0.57,"y":-0.49},{"x":0.6,"y":-0.45},{"x":0.63,"y":-0.41},{"x":0.66,"y":-0.37},{"x":0.68,"y":-0.33},{"x":0.7,"y":-0.29},{"x":0.72,"y":-0.25},{"x":0.74,"y":-0.21},
      {"x":0.75,"y":-0.17},{"x":0.73,"y":-0.13},{"x":0.75,"y":-0.08},{"x":0.73,"y":-0.03},{"x":0.75,"y":0.02},{"x":0.73,"y":0.07},{"x":0.75,"y":0.12},{"x":0.73,"y":0.17},{"x":0.71,"y":0.22},{"x":0.72,"y":0.27},{"x":0.7,"y":0.31},{"x":0.68,"y":0.36},{"x":0.65,"y":0.4},{"x":0.62,"y":0.44},{"x":0.58,"y":0.47},{"x":0.54,"y":0.5},{"x":0.5,"y":0.52},{"x":0.46,"y":0.55},{"x":0.42,"y":0.57},{"x":0.38,"y":0.58},
      {"x":0.34,"y":0.6},{"x":0.3,"y":0.58},{"x":0.27,"y":0.54},{"x":0.27,"y":0.49},{"x":0.26,"y":0.44},{"x":0.25,"y":0.39},{"x":0.23,"y":0.34},{"x":0.21,"y":0.29},{"x":0.2,"y":0.24},{"x":0.18,"y":0.19},{"x":0.16,"y":0.15},{"x":0.13,"y":0.12},
      {"x":0.08,"y":0.14},{"x":0.05,"y":0.19},{"x":0.02,"y":0.23},{"x":-0.01,"y":0.27},{"x":-0.03,"y":0.31},{"x":-0.06,"y":0.35},{"x":-0.09,"y":0.39},{"x":-0.11,"y":0.44},{"x":-0.13,"y":0.48},{"x":-0.17,"y":0.51},{"x":-0.21,"y":0.51},{"x":-0.25,"y":0.47},{"x":-0.29,"y":0.45},{"x":-0.33,"y":0.45},{"x":-0.37,"y":0.46},{"x":-0.41,"y":0.44},{"x":-0.45,"y":0.42},{"x":-0.49,"y":0.41},{"x":-0.53,"y":0.43},{"x":-0.57,"y":0.45},{"x":-0.61,"y":0.43},{"x":-0.64,"y":0.4},{"x":-0.67,"y":0.36},{"x":-0.69,"y":0.32},{"x":-0.72,"y":0.29},{"x":-0.74,"y":0.24},{"x":-0.72,"y":0.19},{"x":-0.69,"y":0.22},{"x":-0.66,"y":0.25},
      {"x":-0.67,"y":0.36},{"x":-0.62,"y":0.39},{"x":-0.61,"y":0.45},{"x":-0.56,"y":0.47},{"x":-0.55,"y":0.53},{"x":-0.49,"y":0.54},{"x":-0.47,"y":0.6},{"x":-0.41,"y":0.61},{"x":-0.38,"y":0.66},{"x":-0.32,"y":0.66},{"x":-0.28,"y":0.7},{"x":-0.23,"y":0.69},{"x":-0.18,"y":0.74},{"x":-0.13,"y":0.72},{"x":-0.08,"y":0.76},{"x":-0.03,"y":0.73},{"x":0.03,"y":0.76},{"x":0.08,"y":0.73},{"x":0.13,"y":0.75},{"x":0.18,"y":0.71},{"x":0.23,"y":0.72},{"x":0.27,"y":0.68},{"x":0.33,"y":0.68},{"x":0.37,"y":0.63},{"x":0.42,"y":0.63},{"x":0.45,"y":0.58},{"x":0.51,"y":0.56},{"x":0.52,"y":0.51},{"x":0.58,"y":0.49},{"x":0.59,"y":0.43},{"x":0.64,"y":0.4},{"x":0.64,"y":0.34},
      {"x":0.58,"y":0.34},{"x":0.62,"y":0.31},{"x":0.65,"y":0.27},{"x":0.63,"y":0.22},{"x":0.66,"y":0.18},{"x":0.64,"y":0.13},{"x":0.67,"y":0.09},{"x":0.65,"y":0.04},{"x":0.68,"y":0},{"x":0.66,"y":-0.05},{"x":0.69,"y":-0.09},{"x":0.67,"y":-0.14},{"x":0.64,"y":-0.18},{"x":0.66,"y":-0.23},{"x":0.63,"y":-0.27},{"x":0.65,"y":-0.32},{"x":0.62,"y":-0.36},{"x":0.59,"y":-0.4},{"x":0.55,"y":-0.43},
      {"x":0.51,"y":-0.47},{"x":0.47,"y":-0.48},{"x":0.43,"y":-0.47},{"x":0.39,"y":-0.48},{"x":0.35,"y":-0.49},{"x":0.31,"y":-0.47},{"x":0.27,"y":-0.49},{"x":0.24,"y":-0.51},{"x":0.22,"y":-0.57},{"x":0.24,"y":-0.62},{"x":0.28,"y":-0.66},{"x":0.32,"y":-0.64},{"x":0.36,"y":-0.66},{"x":0.4,"y":-0.64},{"x":0.44,"y":-0.62},{"x":0.48,"y":-0.6},{"x":0.52,"y":-0.57},{"x":0.56,"y":-0.52},{"x":0.59,"y":-0.47},{"x":0.62,"y":-0.43},{"x":0.58,"y":-0.38},{"x":0.54,"y":-0.36},{"x":0.5,"y":-0.35},{"x":0.46,"y":-0.36},{"x":0.42,"y":-0.37},{"x":0.38,"y":-0.38},{"x":0.34,"y":-0.37},{"x":0.3,"y":-0.36},{"x":0.26,"y":-0.35},{"x":0.24,"y":-0.31},{"x":0.27,"y":-0.27},{"x":0.31,"y":-0.25},{"x":0.35,"y":-0.24},{"x":0.39,"y":-0.25},{"x":0.43,"y":-0.24},{"x":0.47,"y":-0.22},{"x":0.51,"y":-0.2},{"x":0.55,"y":-0.19},{"x":0.59,"y":-0.17},{"x":0.63,"y":-0.14},{"x":0.66,"y":-0.11},{"x":0.7,"y":-0.1},{"x":0.74,"y":-0.12},
      {"x":0.7,"y":-0.08},{"x":0.65,"y":-0.09},{"x":0.6,"y":-0.11},{"x":0.55,"y":-0.12},{"x":0.5,"y":-0.12},{"x":0.45,"y":-0.13},{"x":0.4,"y":-0.14},{"x":0.36,"y":-0.13},{"x":0.32,"y":-0.12},{"x":0.29,"y":-0.15},{"x":0.26,"y":-0.18},{"x":0.22,"y":-0.19},{"x":0.18,"y":-0.2},{"x":0.14,"y":-0.21},{"x":0.1,"y":-0.2},{"x":0.07,"y":-0.17},{"x":0.05,"y":-0.13},{"x":0.08,"y":-0.1},{"x":0.12,"y":-0.09},{"x":0.15,"y":-0.06},{"x":0.19,"y":-0.04},{"x":0.22,"y":-0.01},{"x":0.23,"y":0.03},{"x":0.21,"y":0.07},{"x":0.18,"y":0.09},{"x":0.14,"y":0.08},{"x":0.11,"y":0.1},
      {"x":0.13,"y":0.15},{"x":0.15,"y":0.2},{"x":0.18,"y":0.25},{"x":0.22,"y":0.29},{"x":0.26,"y":0.33},{"x":0.3,"y":0.37},{"x":0.35,"y":0.41},{"x":0.4,"y":0.43},{"x":0.45,"y":0.43},{"x":0.5,"y":0.42},{"x":0.54,"y":0.41},
      {"x":0.57,"y":0.4},{"x":0.57,"y":0.46},{"x":0.51,"y":0.48},{"x":0.46,"y":0.49},{"x":0.44,"y":0.54},{"x":0.42,"y":0.6},{"x":0.36,"y":0.6},{"x":0.3,"y":0.6},{"x":0.27,"y":0.64},{"x":0.24,"y":0.69},{"x":0.18,"y":0.68},{"x":0.13,"y":0.66},{"x":0.09,"y":0.7},{"x":0.04,"y":0.73},{"x":-0.01,"y":0.7},{"x":-0.06,"y":0.67},{"x":-0.11,"y":0.69},{"x":-0.16,"y":0.71},{"x":-0.2,"y":0.67},{"x":-0.24,"y":0.63},{"x":-0.3,"y":0.63},{"x":-0.35,"y":0.64},{"x":-0.38,"y":0.59},{"x":-0.4,"y":0.54},{"x":-0.46,"y":0.53},{"x":-0.52,"y":0.52},{"x":-0.53,"y":0.46},{"x":-0.54,"y":0.4},{"x":-0.59,"y":0.38},{"x":-0.64,"y":0.35},{"x":-0.63,"y":0.3},
      {"x":-0.54,"y":0.3},{"x":-0.55,"y":0.36},{"x":-0.5,"y":0.37},{"x":-0.44,"y":0.38},{"x":-0.44,"y":0.44},{"x":-0.43,"y":0.5},{"x":-0.37,"y":0.5},{"x":-0.32,"y":0.49},{"x":-0.3,"y":0.54},{"x":-0.28,"y":0.6},{"x":-0.22,"y":0.58},{"x":-0.17,"y":0.55},{"x":-0.14,"y":0.6},{"x":-0.1,"y":0.65},{"x":-0.05,"y":0.62},{"x":-0.01,"y":0.58},{"x":0.03,"y":0.62},{"x":0.08,"y":0.66},{"x":0.12,"y":0.61},{"x":0.15,"y":0.56},{"x":0.2,"y":0.59},{"x":0.26,"y":0.61},{"x":0.28,"y":0.55},{"x":0.3,"y":0.5},{"x":0.36,"y":0.51},{"x":0.42,"y":0.51},{"x":0.42,"y":0.45},{"x":0.42,"y":0.4},{"x":0.48,"y":0.39},{"x":0.54,"y":0.38},
      {"x":0.45,"y":0.37},{"x":0.51,"y":0.41},{"x":0.55,"y":0.46},{"x":0.59,"y":0.5},{"x":0.54,"y":0.55},{"x":0.5,"y":0.51},{"x":0.47,"y":0.46},{"x":0.42,"y":0.43},{"x":0.38,"y":0.46},{"x":0.43,"y":0.5},{"x":0.46,"y":0.55},{"x":0.5,"y":0.6},{"x":0.44,"y":0.64},{"x":0.41,"y":0.59},{"x":0.37,"y":0.54},{"x":0.34,"y":0.49},{"x":0.3,"y":0.52},{"x":0.33,"y":0.57},{"x":0.36,"y":0.62},{"x":0.39,"y":0.68},{"x":0.33,"y":0.71},{"x":0.3,"y":0.65},{"x":0.27,"y":0.59},{"x":0.25,"y":0.54},{"x":0.2,"y":0.56},{"x":0.22,"y":0.62},{"x":0.24,"y":0.68},{"x":0.26,"y":0.73},{"x":0.2,"y":0.75},{"x":0.18,"y":0.7},{"x":0.17,"y":0.64},{"x":0.15,"y":0.58},{"x":0.1,"y":0.57},{"x":0.11,"y":0.63},{"x":0.12,"y":0.7},{"x":0.13,"y":0.77},{"x":0.07,"y":0.78},{"x":0.06,"y":0.72},{"x":0.06,"y":0.66},{"x":0.05,"y":0.6},{"x":0,"y":0.58},{"x":0,"y":0.64},{"x":0.01,"y":0.71},{"x":0,"y":0.77},{"x":-0.07,"y":0.76},{"x":-0.06,"y":0.7},{"x":-0.06,"y":0.64},{"x":-0.05,"y":0.58},{"x":-0.1,"y":0.59},{"x":-0.11,"y":0.65},{"x":-0.12,"y":0.71},{"x":-0.13,"y":0.77},{"x":-0.2,"y":0.75},{"x":-0.18,"y":0.68},{"x":-0.17,"y":0.62},{"x":-0.15,"y":0.56},{"x":-0.2,"y":0.54},{"x":-0.22,"y":0.6},{"x":-0.24,"y":0.66},{"x":-0.26,"y":0.73},{"x":-0.33,"y":0.71},{"x":-0.3,"y":0.65},{"x":-0.27,"y":0.58},{"x":-0.25,"y":0.52},{"x":-0.3,"y":0.5},{"x":-0.33,"y":0.55},{"x":-0.36,"y":0.62},{"x":-0.39,"y":0.68},{"x":-0.44,"y":0.64},{"x":-0.41,"y":0.57},{"x":-0.37,"y":0.52},{"x":-0.34,"y":0.47},{"x":-0.38,"y":0.44},{"x":-0.42,"y":0.49},{"x":-0.46,"y":0.55},{"x":-0.5,"y":0.6},{"x":-0.54,"y":0.55},{"x":-0.5,"y":0.51},{"x":-0.46,"y":0.46},{"x":-0.42,"y":0.41},{"x":-0.45,"y":0.37},{"x":-0.5,"y":0.41},{"x":-0.54,"y":0.47},{"x":-0.59,"y":0.51},
      {"x":-0.63,"y":0.47},{"x":-0.62,"y":0.42},{"x":-0.6,"y":0.37},{"x":-0.62,"y":0.32},{"x":-0.66,"y":0.29},{"x":-0.7,"y":0.26},{"x":-0.72,"y":0.21},{"x":-0.7,"y":0.17},{"x":-0.66,"y":0.17},{"x":-0.62,"y":0.19},{"x":-0.58,"y":0.22},{"x":-0.55,"y":0.26},{"x":-0.57,"y":0.31},{"x":-0.61,"y":0.35},{"x":-0.65,"y":0.37},{"x":-0.69,"y":0.35},{"x":-0.72,"y":0.32},{"x":-0.74,"y":0.28},{"x":-0.75,"y":0.23},{"x":-0.76,"y":0.18},{"x":-0.73,"y":0.15},{"x":-0.69,"y":0.15},
      {"x":-0.64,"y":0.16},{"x":-0.6,"y":0.14},{"x":-0.56,"y":0.13},{"x":-0.52,"y":0.14},{"x":-0.48,"y":0.13},{"x":-0.44,"y":0.12},{"x":-0.4,"y":0.13},{"x":-0.36,"y":0.14},{"x":-0.32,"y":0.16},{"x":-0.28,"y":0.15},{"x":-0.24,"y":0.13},{"x":-0.2,"y":0.11},{"x":-0.16,"y":0.1},{"x":-0.12,"y":0.1},{"x":-0.09,"y":0.09},{"x":-0.06,"y":0.05},{"x":-0.07,"y":0.01},{"x":-0.06,"y":-0.04},{"x":-0.03,"y":-0.06},{"x":0.01,"y":-0.05},{"x":0.05,"y":-0.05},{"x":0.07,"y":-0.01},{"x":0.06,"y":0.04},{"x":0.1,"y":0.06},{"x":0.14,"y":0.02},{"x":0.18,"y":0.01},{"x":0.22,"y":-0.03},{"x":0.25,"y":-0.07},{"x":0.28,"y":-0.04},{"x":0.31,"y":0},{"x":0.33,"y":0.04}]
  },
  "concat": [
    {
      "width": 304, "height": 242,
      "title": {"text": "Simulation 1\u00a0 - Lomax MA5"},
      "layer": [
        {"data": {"name": "ring"}, "mark": {"type": "line", "stroke": "black", "strokeWidth": 1},
         "encoding": {"x": {"field": "x", "type": "quantitative", "scale": {"domain": [-0.864, 0.864], "nice": false, "zero": false}, "axis": {"values": [-0.5, 0, 0.5], "labelExpr": "datum.value < 0 ? '-' + format(-datum.value, '.1f') : format(datum.value, '.1f')", "title": "x"}},
                      "y": {"field": "y", "type": "quantitative", "scale": {"domain": [-0.864, 0.864], "nice": false, "zero": false}, "axis": {"values": [-0.5, 0, 0.5], "labelExpr": "datum.value < 0 ? '-' + format(-datum.value, '.1f') : format(datum.value, '.1f')", "title": "y"}},
                      "order": {"value": null}}},
        {"data": {"name": "target"}, "mark": {"type": "line", "stroke": "#d42a2a", "strokeWidth": 1.6},
         "encoding": {"x": {"field": "x", "type": "quantitative", "scale": {"domain": [-0.864, 0.864], "nice": false, "zero": false}, "axis": {"values": [-0.5, 0, 0.5], "labelExpr": "datum.value < 0 ? '-' + format(-datum.value, '.1f') : format(datum.value, '.1f')", "title": "x"}},
                      "y": {"field": "y", "type": "quantitative", "scale": {"domain": [-0.864, 0.864], "nice": false, "zero": false}, "axis": {"values": [-0.5, 0, 0.5], "labelExpr": "datum.value < 0 ? '-' + format(-datum.value, '.1f') : format(datum.value, '.1f')", "title": "y"}},
                      "order": {"value": null}}},
        {"data": {"name": "sim1"}, "mark": {"type": "line", "stroke": "black", "strokeWidth": 1},
         "encoding": {"x": {"field": "x", "type": "quantitative", "scale": {"domain": [-0.864, 0.864], "nice": false, "zero": false}, "axis": {"values": [-0.5, 0, 0.5], "labelExpr": "datum.value < 0 ? '-' + format(-datum.value, '.1f') : format(datum.value, '.1f')", "title": "x"}},
                      "y": {"field": "y", "type": "quantitative", "scale": {"domain": [-0.864, 0.864], "nice": false, "zero": false}, "axis": {"values": [-0.5, 0, 0.5], "labelExpr": "datum.value < 0 ? '-' + format(-datum.value, '.1f') : format(datum.value, '.1f')", "title": "y"}},
                      "order": {"value": null}}},
        {"data": {"name": "sim1"}, "mark": {"type": "point", "shape": "circle", "filled": false, "stroke": "black", "strokeWidth": 1, "size": 34, "opacity": 1},
         "encoding": {"x": {"field": "x", "type": "quantitative", "scale": {"domain": [-0.864, 0.864], "nice": false, "zero": false}, "axis": {"values": [-0.5, 0, 0.5], "labelExpr": "datum.value < 0 ? '-' + format(-datum.value, '.1f') : format(datum.value, '.1f')", "title": "x"}},
                      "y": {"field": "y", "type": "quantitative", "scale": {"domain": [-0.864, 0.864], "nice": false, "zero": false}, "axis": {"values": [-0.5, 0, 0.5], "labelExpr": "datum.value < 0 ? '-' + format(-datum.value, '.1f') : format(datum.value, '.1f')", "title": "y"}}}}
      ]
    },
    {
      "width": 294, "height": 242,
      "view": {"stroke": null},
      "title": {"text": "Simulation 2\u00a0 - Lomax MA5", "dx": 5},
      "layer": [
        {"mark": {"type": "rule", "stroke": "black", "strokeWidth": 1},
         "encoding": {"y": {"datum": 0.864, "type": "quantitative", "scale": {"domain": [-0.864, 0.864], "nice": false, "zero": false}, "axis": {"values": [-0.5, 0, 0.5], "labelExpr": "datum.value < 0 ? '-' + format(-datum.value, '.1f') : format(datum.value, '.1f')", "title": "y", "domain": true, "domainColor": "black", "domainWidth": 1}}}},
        {"data": {"name": "ring"}, "mark": {"type": "line", "stroke": "black", "strokeWidth": 1, "clip": true},
         "encoding": {"x": {"field": "x", "type": "quantitative", "scale": {"domain": [-0.864, 0.8064], "nice": false, "zero": false}, "axis": {"values": [-0.5, 0, 0.5], "labelExpr": "datum.value < 0 ? '-' + format(-datum.value, '.1f') : format(datum.value, '.1f')", "title": "x", "titleX": 152, "domain": true, "domainColor": "black", "domainWidth": 1}},
                      "y": {"field": "y", "type": "quantitative", "scale": {"domain": [-0.864, 0.864], "nice": false, "zero": false}, "axis": {"values": [-0.5, 0, 0.5], "labelExpr": "datum.value < 0 ? '-' + format(-datum.value, '.1f') : format(datum.value, '.1f')", "title": "y", "domain": true, "domainColor": "black", "domainWidth": 1}},
                      "order": {"value": null}}},
        {"data": {"name": "target"}, "mark": {"type": "line", "stroke": "#d42a2a", "strokeWidth": 1.6},
         "encoding": {"x": {"field": "x", "type": "quantitative", "scale": {"domain": [-0.864, 0.8064], "nice": false, "zero": false}, "axis": {"values": [-0.5, 0, 0.5], "labelExpr": "datum.value < 0 ? '-' + format(-datum.value, '.1f') : format(datum.value, '.1f')", "title": "x", "titleX": 152, "domain": true, "domainColor": "black", "domainWidth": 1}},
                      "y": {"field": "y", "type": "quantitative", "scale": {"domain": [-0.864, 0.864], "nice": false, "zero": false}, "axis": {"values": [-0.5, 0, 0.5], "labelExpr": "datum.value < 0 ? '-' + format(-datum.value, '.1f') : format(datum.value, '.1f')", "title": "y", "domain": true, "domainColor": "black", "domainWidth": 1}},
                      "order": {"value": null}}},
        {"data": {"name": "sim2"}, "mark": {"type": "line", "stroke": "black", "strokeWidth": 1, "clip": true},
         "encoding": {"x": {"field": "x", "type": "quantitative", "scale": {"domain": [-0.864, 0.8064], "nice": false, "zero": false}, "axis": {"values": [-0.5, 0, 0.5], "labelExpr": "datum.value < 0 ? '-' + format(-datum.value, '.1f') : format(datum.value, '.1f')", "title": "x", "titleX": 152, "domain": true, "domainColor": "black", "domainWidth": 1}},
                      "y": {"field": "y", "type": "quantitative", "scale": {"domain": [-0.864, 0.864], "nice": false, "zero": false}, "axis": {"values": [-0.5, 0, 0.5], "labelExpr": "datum.value < 0 ? '-' + format(-datum.value, '.1f') : format(datum.value, '.1f')", "title": "y", "domain": true, "domainColor": "black", "domainWidth": 1}},
                      "order": {"value": null}}},
        {"data": {"name": "sim2"}, "mark": {"type": "point", "shape": "circle", "filled": false, "stroke": "black", "strokeWidth": 1, "size": 34, "opacity": 1, "clip": true},
         "encoding": {"x": {"field": "x", "type": "quantitative", "scale": {"domain": [-0.864, 0.8064], "nice": false, "zero": false}, "axis": {"values": [-0.5, 0, 0.5], "labelExpr": "datum.value < 0 ? '-' + format(-datum.value, '.1f') : format(datum.value, '.1f')", "title": "x", "titleX": 152, "domain": true, "domainColor": "black", "domainWidth": 1}},
                      "y": {"field": "y", "type": "quantitative", "scale": {"domain": [-0.864, 0.864], "nice": false, "zero": false}, "axis": {"values": [-0.5, 0, 0.5], "labelExpr": "datum.value < 0 ? '-' + format(-datum.value, '.1f') : format(datum.value, '.1f')", "title": "y", "domain": true, "domainColor": "black", "domainWidth": 1}}}}
      ]
    },
    {
      "width": 304, "height": 242,
      "title": {"text": "Simulation 3\u00a0 - Lomax MA5"},
      "layer": [
        {"data": {"name": "ring"}, "mark": {"type": "line", "stroke": "black", "strokeWidth": 1},
         "encoding": {"x": {"field": "x", "type": "quantitative", "scale": {"domain": [-0.864, 0.864], "nice": false, "zero": false}, "axis": {"values": [-0.5, 0, 0.5], "labelExpr": "datum.value < 0 ? '-' + format(-datum.value, '.1f') : format(datum.value, '.1f')", "title": "x"}},
                      "y": {"field": "y", "type": "quantitative", "scale": {"domain": [-0.864, 0.864], "nice": false, "zero": false}, "axis": {"values": [-0.5, 0, 0.5], "labelExpr": "datum.value < 0 ? '-' + format(-datum.value, '.1f') : format(datum.value, '.1f')", "title": "y"}},
                      "order": {"value": null}}},
        {"data": {"name": "target"}, "mark": {"type": "line", "stroke": "#d42a2a", "strokeWidth": 1.6},
         "encoding": {"x": {"field": "x", "type": "quantitative", "scale": {"domain": [-0.864, 0.864], "nice": false, "zero": false}, "axis": {"values": [-0.5, 0, 0.5], "labelExpr": "datum.value < 0 ? '-' + format(-datum.value, '.1f') : format(datum.value, '.1f')", "title": "x"}},
                      "y": {"field": "y", "type": "quantitative", "scale": {"domain": [-0.864, 0.864], "nice": false, "zero": false}, "axis": {"values": [-0.5, 0, 0.5], "labelExpr": "datum.value < 0 ? '-' + format(-datum.value, '.1f') : format(datum.value, '.1f')", "title": "y"}},
                      "order": {"value": null}}},
        {"data": {"name": "sim3"}, "mark": {"type": "line", "stroke": "black", "strokeWidth": 1},
         "encoding": {"x": {"field": "x", "type": "quantitative", "scale": {"domain": [-0.864, 0.864], "nice": false, "zero": false}, "axis": {"values": [-0.5, 0, 0.5], "labelExpr": "datum.value < 0 ? '-' + format(-datum.value, '.1f') : format(datum.value, '.1f')", "title": "x"}},
                      "y": {"field": "y", "type": "quantitative", "scale": {"domain": [-0.864, 0.864], "nice": false, "zero": false}, "axis": {"values": [-0.5, 0, 0.5], "labelExpr": "datum.value < 0 ? '-' + format(-datum.value, '.1f') : format(datum.value, '.1f')", "title": "y"}},
                      "order": {"value": null}}},
        {"data": {"name": "sim3"}, "mark": {"type": "point", "shape": "circle", "filled": false, "stroke": "black", "strokeWidth": 1, "size": 34, "opacity": 1},
         "encoding": {"x": {"field": "x", "type": "quantitative", "scale": {"domain": [-0.864, 0.864], "nice": false, "zero": false}, "axis": {"values": [-0.5, 0, 0.5], "labelExpr": "datum.value < 0 ? '-' + format(-datum.value, '.1f') : format(datum.value, '.1f')", "title": "x"}},
                      "y": {"field": "y", "type": "quantitative", "scale": {"domain": [-0.864, 0.864], "nice": false, "zero": false}, "axis": {"values": [-0.5, 0, 0.5], "labelExpr": "datum.value < 0 ? '-' + format(-datum.value, '.1f') : format(datum.value, '.1f')", "title": "y"}}}}
      ]
    },
    {
      "width": 294, "height": 242,
      "view": {"stroke": null},
      "title": {"text": "Simulation 4\u00a0 - Lomax MA5", "dx": 5},
      "layer": [
        {"mark": {"type": "rule", "stroke": "black", "strokeWidth": 1},
         "encoding": {"y": {"datum": 0.864, "type": "quantitative", "scale": {"domain": [-0.864, 0.864], "nice": false, "zero": false}, "axis": {"values": [-0.5, 0, 0.5], "labelExpr": "datum.value < 0 ? '-' + format(-datum.value, '.1f') : format(datum.value, '.1f')", "title": "y", "domain": true, "domainColor": "black", "domainWidth": 1}}}},
        {"data": {"name": "ring"}, "mark": {"type": "line", "stroke": "black", "strokeWidth": 1, "clip": true},
         "encoding": {"x": {"field": "x", "type": "quantitative", "scale": {"domain": [-0.864, 0.8064], "nice": false, "zero": false}, "axis": {"values": [-0.5, 0, 0.5], "labelExpr": "datum.value < 0 ? '-' + format(-datum.value, '.1f') : format(datum.value, '.1f')", "title": "x", "titleX": 152, "domain": true, "domainColor": "black", "domainWidth": 1}},
                      "y": {"field": "y", "type": "quantitative", "scale": {"domain": [-0.864, 0.864], "nice": false, "zero": false}, "axis": {"values": [-0.5, 0, 0.5], "labelExpr": "datum.value < 0 ? '-' + format(-datum.value, '.1f') : format(datum.value, '.1f')", "title": "y", "domain": true, "domainColor": "black", "domainWidth": 1}},
                      "order": {"value": null}}},
        {"data": {"name": "sim4"}, "mark": {"type": "line", "stroke": "black", "strokeWidth": 1, "clip": true},
         "encoding": {"x": {"field": "x", "type": "quantitative", "scale": {"domain": [-0.864, 0.8064], "nice": false, "zero": false}, "axis": {"values": [-0.5, 0, 0.5], "labelExpr": "datum.value < 0 ? '-' + format(-datum.value, '.1f') : format(datum.value, '.1f')", "title": "x", "titleX": 152, "domain": true, "domainColor": "black", "domainWidth": 1}},
                      "y": {"field": "y", "type": "quantitative", "scale": {"domain": [-0.864, 0.864], "nice": false, "zero": false}, "axis": {"values": [-0.5, 0, 0.5], "labelExpr": "datum.value < 0 ? '-' + format(-datum.value, '.1f') : format(datum.value, '.1f')", "title": "y", "domain": true, "domainColor": "black", "domainWidth": 1}},
                      "order": {"value": null}}},
        {"data": {"name": "sim4"}, "mark": {"type": "point", "shape": "circle", "filled": false, "stroke": "black", "strokeWidth": 1, "size": 34, "opacity": 1, "clip": true},
         "encoding": {"x": {"field": "x", "type": "quantitative", "scale": {"domain": [-0.864, 0.8064], "nice": false, "zero": false}, "axis": {"values": [-0.5, 0, 0.5], "labelExpr": "datum.value < 0 ? '-' + format(-datum.value, '.1f') : format(datum.value, '.1f')", "title": "x", "titleX": 152, "domain": true, "domainColor": "black", "domainWidth": 1}},
                      "y": {"field": "y", "type": "quantitative", "scale": {"domain": [-0.864, 0.864], "nice": false, "zero": false}, "axis": {"values": [-0.5, 0, 0.5], "labelExpr": "datum.value < 0 ? '-' + format(-datum.value, '.1f') : format(datum.value, '.1f')", "title": "y", "domain": true, "domainColor": "black", "domainWidth": 1}}}},
        {"data": {"name": "target"}, "mark": {"type": "line", "stroke": "#d42a2a", "strokeWidth": 1.6},
         "encoding": {"x": {"field": "x", "type": "quantitative", "scale": {"domain": [-0.864, 0.8064], "nice": false, "zero": false}, "axis": {"values": [-0.5, 0, 0.5], "labelExpr": "datum.value < 0 ? '-' + format(-datum.value, '.1f') : format(datum.value, '.1f')", "title": "x", "titleX": 152, "domain": true, "domainColor": "black", "domainWidth": 1}},
                      "y": {"field": "y", "type": "quantitative", "scale": {"domain": [-0.864, 0.864], "nice": false, "zero": false}, "axis": {"values": [-0.5, 0, 0.5], "labelExpr": "datum.value < 0 ? '-' + format(-datum.value, '.1f') : format(datum.value, '.1f')", "title": "y", "domain": true, "domainColor": "black", "domainWidth": 1}},
                      "order": {"value": null}}}
      ]
    }
  ]
}
